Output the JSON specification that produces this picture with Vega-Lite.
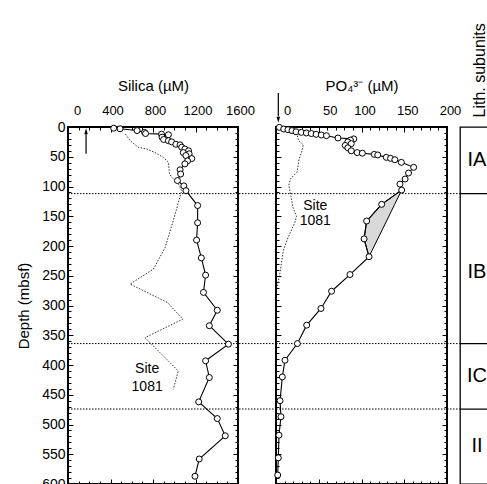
{
  "$schema": "https://vega.github.io/schema/vega-lite/v6.json",
  "padding": {"left": 15, "top": 22, "right": 0, "bottom": 0},
  "autosize": {"type": "pad"},
  "bounds": "flush",
  "spacing": 38,
  "config": {
    "font": "Liberation Sans",
    "view": {"stroke": "black", "strokeWidth": 2},
    "axis": {"domain": false, "grid": false, "tickColor": "black", "tickWidth": 1, "labelColor": "black", "titleColor": "black", "labelFont": "Liberation Sans", "titleFont": "Liberation Sans", "titleFontWeight": "normal"},
    "title": {"font": "Liberation Sans", "fontWeight": "normal", "color": "black"}
  },
  "datasets": {
    "siMain": [
      {"depth": 2, "v": 430}, {"depth": 3, "v": 490}, {"depth": 6, "v": 650}, {"depth": 9, "v": 720}, {"depth": 11, "v": 730},
      {"depth": 12, "v": 880}, {"depth": 13, "v": 945}, {"depth": 17, "v": 885}, {"depth": 21, "v": 900}, {"depth": 23, "v": 945},
      {"depth": 25, "v": 975}, {"depth": 29, "v": 1015}, {"depth": 30, "v": 1055}, {"depth": 34, "v": 1070}, {"depth": 37, "v": 1100},
      {"depth": 40, "v": 1135}, {"depth": 43, "v": 1085}, {"depth": 45, "v": 1140}, {"depth": 48, "v": 1110}, {"depth": 53, "v": 1165},
      {"depth": 57, "v": 1125}, {"depth": 62, "v": 1100}, {"depth": 72, "v": 1055}, {"depth": 79, "v": 1060}, {"depth": 90, "v": 1030},
      {"depth": 99, "v": 1090}, {"depth": 107, "v": 1110}, {"depth": 132, "v": 1220}, {"depth": 161, "v": 1220}, {"depth": 190, "v": 1210},
      {"depth": 220, "v": 1255}, {"depth": 249, "v": 1295}, {"depth": 278, "v": 1275}, {"depth": 308, "v": 1405}, {"depth": 334, "v": 1330},
      {"depth": 365, "v": 1510}, {"depth": 393, "v": 1295}, {"depth": 421, "v": 1330}, {"depth": 462, "v": 1230}, {"depth": 490, "v": 1405},
      {"depth": 519, "v": 1480}, {"depth": 558, "v": 1235}, {"depth": 587, "v": 1195}
    ],
    "siSite": [
      {"depth": 12, "v": 540}, {"depth": 23, "v": 585}, {"depth": 34, "v": 660}, {"depth": 37, "v": 740}, {"depth": 43, "v": 820},
      {"depth": 51, "v": 895}, {"depth": 59, "v": 945}, {"depth": 79, "v": 955}, {"depth": 85, "v": 980}, {"depth": 96, "v": 1040},
      {"depth": 107, "v": 1070}, {"depth": 158, "v": 990}, {"depth": 203, "v": 913}, {"depth": 239, "v": 803}, {"depth": 264, "v": 584},
      {"depth": 295, "v": 936}, {"depth": 323, "v": 1080}, {"depth": 354, "v": 725}, {"depth": 410, "v": 1038}, {"depth": 441, "v": 991}
    ],
    "siLabel": [{"depth": 406, "v": 745, "t": "Site"}, {"depth": 437, "v": 745, "t": "1081"}],
    "siArrow": [{"v": 170, "d0": 45, "d1": 12, "tip": 8}],
    "poMain": [
      {"depth": 0.6, "v": 3.9}, {"depth": 3.4, "v": 9}, {"depth": 4.5, "v": 14}, {"depth": 6, "v": 18.7}, {"depth": 8, "v": 23.4},
      {"depth": 9, "v": 29.6}, {"depth": 10, "v": 35.5}, {"depth": 11, "v": 41.3}, {"depth": 12.3, "v": 47}, {"depth": 13.4, "v": 53},
      {"depth": 14.6, "v": 59}, {"depth": 18.5, "v": 72.5}, {"depth": 20, "v": 91}, {"depth": 22, "v": 87}, {"depth": 25, "v": 84},
      {"depth": 28, "v": 88}, {"depth": 31, "v": 81}, {"depth": 35, "v": 84}, {"depth": 40, "v": 88}, {"depth": 43, "v": 95},
      {"depth": 44, "v": 101}, {"depth": 46, "v": 115}, {"depth": 47, "v": 119}, {"depth": 51, "v": 129}, {"depth": 52.6, "v": 134},
      {"depth": 55, "v": 139}, {"depth": 59.4, "v": 146.6}, {"depth": 67.8, "v": 161}, {"depth": 77.3, "v": 155}, {"depth": 87.4, "v": 151},
      {"depth": 96, "v": 145}, {"depth": 106, "v": 147}, {"depth": 130, "v": 123.6}, {"depth": 158, "v": 106}, {"depth": 188, "v": 103},
      {"depth": 218, "v": 108.8}, {"depth": 248, "v": 86.5}, {"depth": 276, "v": 65}, {"depth": 305, "v": 52.6}, {"depth": 333, "v": 35.9},
      {"depth": 364, "v": 25}, {"depth": 392, "v": 10.5}, {"depth": 420, "v": 7.4}, {"depth": 460, "v": 4.7}, {"depth": 487, "v": 5.8},
      {"depth": 518, "v": 3.5}, {"depth": 556, "v": 2.7}, {"depth": 585, "v": 2}
    ],
    "poSite": [
      {"depth": 10, "v": 27}, {"depth": 17, "v": 25}, {"depth": 23, "v": 26.5}, {"depth": 30, "v": 32}, {"depth": 42, "v": 30},
      {"depth": 54, "v": 27}, {"depth": 76, "v": 24.5}, {"depth": 87, "v": 17}, {"depth": 98, "v": 15}, {"depth": 113, "v": 17},
      {"depth": 136, "v": 20}, {"depth": 150, "v": 24}, {"depth": 161, "v": 22}, {"depth": 186, "v": 14}, {"depth": 208, "v": 8.5},
      {"depth": 242, "v": 5}, {"depth": 270, "v": 1.5}
    ],
    "poShade": [
      {"depth": 106, "a": 147, "b": 147}, {"depth": 130, "a": 123.6, "b": 138.8}, {"depth": 158, "a": 106, "b": 129.3},
      {"depth": 188, "a": 103, "b": 119}, {"depth": 218, "a": 108.8, "b": 108.8}
    ],
    "poLabel": [{"depth": 132, "v": 46, "t": "Site"}, {"depth": 158, "v": 46, "t": "1081"}],
    "poArrow": [{"v": 2.7, "d0": -57, "d1": -18, "tip": -13}],
    "bounds": [{"depth": 112}, {"depth": 364}, {"depth": 474}],
    "lith": [{"unit": "IA", "depth": 56}, {"unit": "IB", "depth": 244}, {"unit": "IC", "depth": 418}, {"unit": "II", "depth": 536}]
  },
  "hconcat": [
    {
      "width": 170,
      "height": 357,
      "resolve": {"axis": {"x": "independent", "y": "independent"}},
      "layer": [
        {
          "data": {"name": "siSite"},
          "mark": {"type": "line", "color": "#333", "strokeWidth": 1, "strokeDash": [1.5, 1.5]},
          "encoding": {
            "x": {"field": "v", "type": "quantitative", "scale": {"domain": [0, 1600], "nice": false},
                  "axis": {"orient": "bottom", "values": [0, 400, 800, 1200, 1600], "tickSize": -5, "labels": false, "title": null}},
            "y": {"field": "depth", "type": "quantitative", "scale": {"domain": [0, 600], "reverse": true, "nice": false},
                  "axis": {"orient": "right", "values": [0, 50, 100, 150, 200, 250, 300, 350, 400, 450, 500, 550, 600], "tickSize": -5, "labels": false, "title": null}},
            "order": {"field": "depth", "type": "quantitative"}
          }
        },
        {
          "data": {"name": "bounds"},
          "mark": {"type": "rule", "color": "black", "strokeWidth": 1, "strokeDash": [1.5, 1.5], "clip": false},
          "encoding": {
            "x": {"datum": 0, "type": "quantitative", "axis": null},
            "x2": {"datum": 1958},
            "y": {"field": "depth", "type": "quantitative", "axis": null}
          }
        },
        {
          "data": {"name": "siMain"},
          "mark": {"type": "line", "color": "black", "strokeWidth": 1.1},
          "encoding": {
            "x": {"field": "v", "type": "quantitative",
                  "axis": {"orient": "top", "values": [0, 400, 800, 1200, 1600], "format": "d", "tickSize": -5, "labelPadding": 15, "labelFontSize": 13, "labelFlush": false, "labelOverlap": false,
                           "labelOffset": {"condition": {"test": "datum.value === 0", "value": 9}, "value": 2},
                           "title": "Silica (µM)", "titleFontSize": 15, "titlePadding": 11}},
            "y": {"field": "depth", "type": "quantitative",
                  "axis": {"orient": "left", "values": [0, 50, 100, 150, 200, 250, 300, 350, 400, 450, 500, 550, 600], "format": "d", "tickSize": -5, "labelPadding": 8, "labelFontSize": 14,
                           "title": "Depth (mbsf)", "titleFontSize": 15, "titlePadding": 10}},
            "order": {"field": "depth", "type": "quantitative"}
          }
        },
        {
          "data": {"name": "siMain"},
          "mark": {"type": "point", "shape": "circle", "filled": true, "fill": "white", "stroke": "black", "strokeWidth": 1, "size": 36, "opacity": 1},
          "encoding": {
            "x": {"field": "v", "type": "quantitative",
                  "axis": {"orient": "top", "values": [0, 100, 200, 300, 400, 500, 600, 700, 800, 900, 1000, 1100, 1200, 1300, 1400, 1500, 1600], "tickSize": -3, "labels": false, "title": null}},
            "y": {"field": "depth", "type": "quantitative",
                  "axis": {"orient": "left", "values": [0, 10, 20, 30, 40, 50, 60, 70, 80, 90, 100, 110, 120, 130, 140, 150, 160, 170, 180, 190, 200, 210, 220, 230, 240, 250, 260, 270, 280, 290, 300, 310, 320, 330, 340, 350, 360, 370, 380, 390, 400, 410, 420, 430, 440, 450, 460, 470, 480, 490, 500, 510, 520, 530, 540, 550, 560, 570, 580, 590, 600], "tickSize": -3, "labels": false, "title": null}}
          }
        },
        {
          "data": {"name": "siLabel"},
          "mark": {"type": "text", "fontSize": 14, "color": "black", "align": "center", "baseline": "middle"},
          "encoding": {
            "x": {"field": "v", "type": "quantitative",
                  "axis": {"orient": "bottom", "values": [0, 100, 200, 300, 400, 500, 600, 700, 800, 900, 1000, 1100, 1200, 1300, 1400, 1500, 1600], "tickSize": -3, "labels": false, "title": null}},
            "y": {"field": "depth", "type": "quantitative",
                  "axis": {"orient": "right", "values": [0, 10, 20, 30, 40, 50, 60, 70, 80, 90, 100, 110, 120, 130, 140, 150, 160, 170, 180, 190, 200, 210, 220, 230, 240, 250, 260, 270, 280, 290, 300, 310, 320, 330, 340, 350, 360, 370, 380, 390, 400, 410, 420, 430, 440, 450, 460, 470, 480, 490, 500, 510, 520, 530, 540, 550, 560, 570, 580, 590, 600], "tickSize": -3, "labels": false, "title": null}},
            "text": {"field": "t"}
          }
        },
        {
          "data": {"name": "siArrow"},
          "mark": {"type": "rule", "color": "black", "strokeWidth": 1.2, "clip": false},
          "encoding": {
            "x": {"field": "v", "type": "quantitative", "axis": null},
            "y": {"field": "d0", "type": "quantitative", "axis": null},
            "y2": {"field": "d1"}
          }
        },
        {
          "data": {"name": "siArrow"},
          "mark": {"type": "point", "shape": "M0,-0.7L0.35,0.5L-0.35,0.5Z", "filled": true, "color": "black", "size": 100, "opacity": 1, "clip": false},
          "encoding": {
            "x": {"field": "v", "type": "quantitative", "axis": null},
            "y": {"field": "tip", "type": "quantitative", "axis": null}
          }
        }
      ]
    },
    {
      "bounds": "flush",
      "spacing": 13,
      "hconcat": [
        {
          "width": 171,
          "height": 357,
          "resolve": {"axis": {"x": "independent", "y": "independent"}},
          "layer": [
            {
              "data": {"name": "poSite"},
              "mark": {"type": "line", "color": "#333", "strokeWidth": 1, "strokeDash": [1.5, 1.5]},
              "encoding": {
                "x": {"field": "v", "type": "quantitative", "scale": {"domain": [0, 200], "nice": false},
                      "axis": {"orient": "bottom", "values": [0, 50, 100, 150, 200], "tickSize": -5, "labels": false, "title": null}},
                "y": {"field": "depth", "type": "quantitative", "scale": {"domain": [0, 600], "reverse": true, "nice": false},
                      "axis": {"orient": "right", "values": [0, 50, 100, 150, 200, 250, 300, 350, 400, 450, 500, 550, 600], "tickSize": -5, "labels": false, "title": null}},
                "order": {"field": "depth", "type": "quantitative"}
              }
            },
            {
              "data": {"name": "bounds"},
              "mark": {"type": "rule", "color": "black", "strokeWidth": 1, "strokeDash": [1.5, 1.5], "clip": false},
              "encoding": {
                "x": {"datum": 0, "type": "quantitative", "axis": null},
                "x2": {"datum": 215},
                "y": {"field": "depth", "type": "quantitative", "axis": null}
              }
            },
            {
              "data": {"name": "poShade"},
              "mark": {"type": "area", "orient": "horizontal", "fill": "#d9d9d9", "stroke": "black", "strokeWidth": 1, "opacity": 1},
              "encoding": {
                "y": {"field": "depth", "type": "quantitative", "axis": null},
                "x": {"field": "a", "type": "quantitative", "axis": null},
                "x2": {"field": "b"}
              }
            },
            {
              "data": {"name": "poMain"},
              "mark": {"type": "line", "color": "black", "strokeWidth": 1.1},
              "encoding": {
                "x": {"field": "v", "type": "quantitative",
                      "axis": {"orient": "top", "values": [0, 50, 100, 150, 200], "format": "d", "tickSize": -5, "labelPadding": 15, "labelFontSize": 13, "labelFlush": false, "labelOverlap": false,
                               "labelOffset": {"condition": {"test": "datum.value <= 50", "value": 11}, "value": 3},
                               "title": "PO₄³⁻ (µM)", "titleFontSize": 15, "titlePadding": 11}},
                "y": {"field": "depth", "type": "quantitative",
                      "axis": {"orient": "left", "values": [0, 50, 100, 150, 200, 250, 300, 350, 400, 450, 500, 550, 600], "tickSize": -5, "labels": false, "title": null}},
                "order": {"field": "depth", "type": "quantitative"}
              }
            },
            {
              "data": {"name": "poMain"},
              "mark": {"type": "point", "shape": "circle", "filled": true, "fill": "white", "stroke": "black", "strokeWidth": 1, "size": 36, "opacity": 1},
              "encoding": {
                "x": {"field": "v", "type": "quantitative",
                      "axis": {"orient": "top", "values": [0, 10, 20, 30, 40, 50, 60, 70, 80, 90, 100, 110, 120, 130, 140, 150, 160, 170, 180, 190, 200], "tickSize": -3, "labels": false, "title": null}},
                "y": {"field": "depth", "type": "quantitative",
                      "axis": {"orient": "left", "values": [0, 10, 20, 30, 40, 50, 60, 70, 80, 90, 100, 110, 120, 130, 140, 150, 160, 170, 180, 190, 200, 210, 220, 230, 240, 250, 260, 270, 280, 290, 300, 310, 320, 330, 340, 350, 360, 370, 380, 390, 400, 410, 420, 430, 440, 450, 460, 470, 480, 490, 500, 510, 520, 530, 540, 550, 560, 570, 580, 590, 600], "tickSize": -3, "labels": false, "title": null}}
              }
            },
            {
              "data": {"name": "poLabel"},
              "mark": {"type": "text", "fontSize": 14, "color": "black", "align": "center", "baseline": "middle"},
              "encoding": {
                "x": {"field": "v", "type": "quantitative",
                      "axis": {"orient": "bottom", "values": [0, 10, 20, 30, 40, 50, 60, 70, 80, 90, 100, 110, 120, 130, 140, 150, 160, 170, 180, 190, 200], "tickSize": -3, "labels": false, "title": null}},
                "y": {"field": "depth", "type": "quantitative",
                      "axis": {"orient": "right", "values": [0, 10, 20, 30, 40, 50, 60, 70, 80, 90, 100, 110, 120, 130, 140, 150, 160, 170, 180, 190, 200, 210, 220, 230, 240, 250, 260, 270, 280, 290, 300, 310, 320, 330, 340, 350, 360, 370, 380, 390, 400, 410, 420, 430, 440, 450, 460, 470, 480, 490, 500, 510, 520, 530, 540, 550, 560, 570, 580, 590, 600], "tickSize": -3, "labels": false, "title": null}},
                "text": {"field": "t"}
              }
            },
            {
              "data": {"name": "poArrow"},
              "mark": {"type": "rule", "color": "black", "strokeWidth": 1.2, "clip": false},
              "encoding": {
                "x": {"field": "v", "type": "quantitative", "axis": null},
                "y": {"field": "d0", "type": "quantitative", "axis": null},
                "y2": {"field": "d1"}
              }
            },
            {
              "data": {"name": "poArrow"},
              "mark": {"type": "point", "shape": "M0,0.7L0.35,-0.5L-0.35,-0.5Z", "filled": true, "color": "black", "size": 100, "opacity": 1, "clip": false},
              "encoding": {
                "x": {"field": "v", "type": "quantitative", "axis": null},
                "y": {"field": "tip", "type": "quantitative", "axis": null}
              }
            }
          ]
        },
        {
          "width": 34,
          "height": 357,
          "view": {"stroke": "black", "strokeWidth": 1.3},
          "layer": [
            {
              "data": {"name": "bounds"},
              "mark": {"type": "rule", "color": "black", "strokeWidth": 1.2},
              "encoding": {
                "y": {"field": "depth", "type": "quantitative", "scale": {"domain": [0, 600], "reverse": true, "nice": false}, "axis": null}
              }
            },
            {
              "data": {"name": "lith"},
              "mark": {"type": "text", "fontSize": 20, "color": "black", "align": "center", "baseline": "middle"},
              "encoding": {
                "y": {"field": "depth", "type": "quantitative", "axis": null},
                "text": {"field": "unit"}
              }
            },
            {
              "data": {"values": [{"label": "Lith. subunits"}]},
              "mark": {"type": "text", "fontSize": 16, "color": "black", "angle": 270, "align": "left", "baseline": "middle", "dy": 3, "clip": false},
              "encoding": {
                "y": {"datum": -16, "type": "quantitative", "axis": null},
                "text": {"field": "label"}
              }
            }
          ]
        }
      ]
    }
  ]
}
